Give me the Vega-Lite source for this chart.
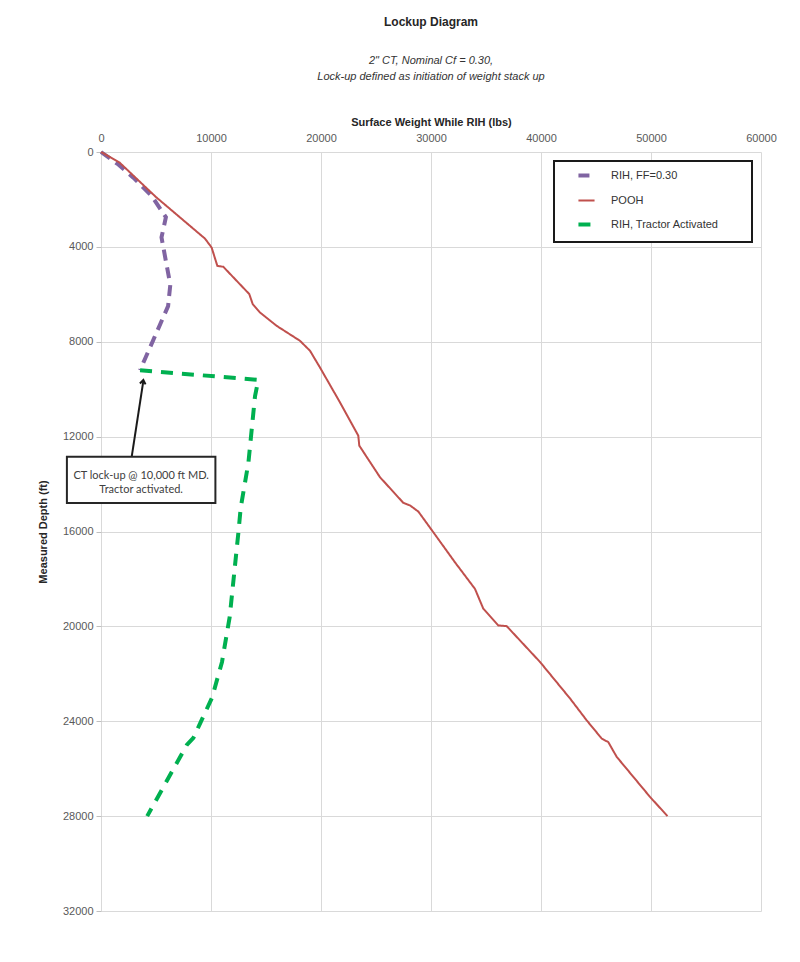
{
  "$schema": "https://vega.github.io/schema/vega-lite/v6.json",
  "width": 660,
  "height": 759,
  "padding": {"left": 37, "top": 16, "right": 5, "bottom": 5},
  "background": "white",
  "config": {
    "font": "Liberation Sans",
    "view": {"stroke": null},
    "legend": {"strokeColor": "#1a1a1a", "strokeWidth": 2}
  },
  "title": {
    "text": "Lockup Diagram",
    "subtitle": ["2\" CT, Nominal Cf = 0.30,", "Lock-up defined as initiation of weight stack up"],
    "fontSize": 12,
    "fontWeight": "bold",
    "color": "#262626",
    "subtitleFontSize": 11,
    "subtitleFontStyle": "italic",
    "subtitleColor": "#333333",
    "subtitlePadding": 26,
    "subtitleLineHeight": 16,
    "anchor": "middle",
    "offset": 33
  },
  "datasets": {
    "curves": [
      {"series": "RIH, FF=0.30", "w": 0, "d": 0},
      {"series": "RIH, FF=0.30", "w": 1500, "d": 500},
      {"series": "RIH, FF=0.30", "w": 2940, "d": 1080},
      {"series": "RIH, FF=0.30", "w": 4600, "d": 1850},
      {"series": "RIH, FF=0.30", "w": 5900, "d": 2750},
      {"series": "RIH, FF=0.30", "w": 5500, "d": 3600},
      {"series": "RIH, FF=0.30", "w": 6300, "d": 5600},
      {"series": "RIH, FF=0.30", "w": 6100, "d": 6500},
      {"series": "RIH, FF=0.30", "w": 3550, "d": 9200},
      {"series": "POOH", "w": 0, "d": 0},
      {"series": "POOH", "w": 1700, "d": 450},
      {"series": "POOH", "w": 5000, "d": 1900},
      {"series": "POOH", "w": 9450, "d": 3650},
      {"series": "POOH", "w": 10060, "d": 4030},
      {"series": "POOH", "w": 10575, "d": 4800},
      {"series": "POOH", "w": 11120, "d": 4840},
      {"series": "POOH", "w": 13480, "d": 5990},
      {"series": "POOH", "w": 13790, "d": 6410},
      {"series": "POOH", "w": 14450, "d": 6765},
      {"series": "POOH", "w": 15970, "d": 7330},
      {"series": "POOH", "w": 18090, "d": 7960},
      {"series": "POOH", "w": 19000, "d": 8380},
      {"series": "POOH", "w": 19900, "d": 9080},
      {"series": "POOH", "w": 21730, "d": 10560},
      {"series": "POOH", "w": 23390, "d": 11960},
      {"series": "POOH", "w": 23480, "d": 12380},
      {"series": "POOH", "w": 25360, "d": 13710},
      {"series": "POOH", "w": 27480, "d": 14790},
      {"series": "POOH", "w": 28090, "d": 14900},
      {"series": "POOH", "w": 28850, "d": 15160},
      {"series": "POOH", "w": 30210, "d": 16030},
      {"series": "POOH", "w": 32180, "d": 17300},
      {"series": "POOH", "w": 34000, "d": 18420},
      {"series": "POOH", "w": 34750, "d": 19250},
      {"series": "POOH", "w": 36120, "d": 19960},
      {"series": "POOH", "w": 36880, "d": 19990},
      {"series": "POOH", "w": 39910, "d": 21500},
      {"series": "POOH", "w": 42640, "d": 23040},
      {"series": "POOH", "w": 44150, "d": 23960},
      {"series": "POOH", "w": 45520, "d": 24730},
      {"series": "POOH", "w": 46120, "d": 24880},
      {"series": "POOH", "w": 46880, "d": 25500},
      {"series": "POOH", "w": 49910, "d": 27190},
      {"series": "POOH", "w": 51500, "d": 28000},
      {"series": "RIH, Tractor Activated", "w": 3550, "d": 9200},
      {"series": "RIH, Tractor Activated", "w": 14300, "d": 9610},
      {"series": "RIH, Tractor Activated", "w": 14000, "d": 10300},
      {"series": "RIH, Tractor Activated", "w": 13400, "d": 13100},
      {"series": "RIH, Tractor Activated", "w": 12700, "d": 15000},
      {"series": "RIH, Tractor Activated", "w": 12500, "d": 16000},
      {"series": "RIH, Tractor Activated", "w": 11700, "d": 19600},
      {"series": "RIH, Tractor Activated", "w": 11000, "d": 21500},
      {"series": "RIH, Tractor Activated", "w": 10100, "d": 23000},
      {"series": "RIH, Tractor Activated", "w": 9000, "d": 24100},
      {"series": "RIH, Tractor Activated", "w": 8400, "d": 24700},
      {"series": "RIH, Tractor Activated", "w": 7800, "d": 25000},
      {"series": "RIH, Tractor Activated", "w": 4200, "d": 28000}
    ],
    "box": [{"w": -3100, "d": 12850, "w2": 10400, "d2": 14800}],
    "notes": [
      {"w": 3650, "d": 13640, "t": "CT lock-up @ 10,000 ft MD."},
      {"w": 3650, "d": 14230, "t": "Tractor activated."}
    ],
    "arrow": [{"w": 2790, "d": 12850, "w2": 3850, "d2": 9650}],
    "head": [{"w": 3850, "d": 9610}]
  },
  "encoding": {
    "x": {
      "field": "w",
      "type": "quantitative",
      "scale": {"domain": [0, 60000], "nice": false, "zero": false},
      "axis": {
        "orient": "top",
        "title": "Surface Weight While RIH (lbs)",
        "values": [0, 10000, 20000, 30000, 40000, 50000, 60000],
        "format": "d",
        "grid": true,
        "gridColor": "#d9d9d9",
        "domain": false,
        "ticks": false,
        "labelFlush": false,
        "labelFontSize": 11,
        "labelColor": "#595959",
        "labelPadding": 9,
        "titleFontSize": 11,
        "titleFontWeight": "bold",
        "titleColor": "#262626",
        "titlePadding": 5
      }
    },
    "y": {
      "field": "d",
      "type": "quantitative",
      "scale": {"domain": [0, 32000], "nice": false, "reverse": true, "zero": false},
      "axis": {
        "title": "Measured Depth (ft)",
        "values": [0, 4000, 8000, 12000, 16000, 20000, 24000, 28000, 32000],
        "format": "d",
        "grid": true,
        "gridColor": "#d9d9d9",
        "domain": false,
        "ticks": true,
        "tickColor": "#bfbfbf",
        "tickSize": 5,
        "labelFlush": false,
        "labelFontSize": 11,
        "labelColor": "#595959",
        "labelPadding": 3,
        "titleFontSize": 11,
        "titleFontWeight": "bold",
        "titleColor": "#262626",
        "titlePadding": 14
      }
    }
  },
  "layer": [
    {
      "data": {"name": "curves"},
      "mark": {"type": "line", "clip": false},
      "encoding": {
        "order": {"field": "d", "type": "quantitative"},
        "color": {
          "field": "series",
          "type": "nominal",
          "scale": {
            "domain": ["RIH, FF=0.30", "POOH", "RIH, Tractor Activated"],
            "range": ["#8064a2", "#c0504d", "#00b050"]
          },
          "legend": {
            "title": null,
            "orient": "top-right",
            "offset": 9,
            "padding": 9,
            "fillColor": "white",
            "cornerRadius": 0,
            "symbolType": "stroke",
            "symbolSize": 260,
            "symbolOffset": 18,
            "symbolStrokeWidth": 4,
            "labelFontSize": 11,
            "labelColor": "#333333",
            "labelOffset": 19,
            "rowPadding": 10,
            "labelExpr": "datum.label + '\u2800\u2800\u2800'",
            "encode": {
              "symbols": {
                "update": {
                  "strokeWidth": {"signal": "datum.value === 'POOH' ? 2 : 4"}
                }
              }
            }
          }
        },
        "strokeDash": {
          "field": "series",
          "type": "nominal",
          "scale": {
            "domain": ["RIH, FF=0.30", "POOH", "RIH, Tractor Activated"],
            "range": [[11, 7], [1, 0], [12, 9]]
          },
          "legend": null
        },
        "strokeWidth": {
          "condition": {"test": "datum.series === 'POOH'", "value": 2},
          "value": 4
        }
      }
    },
    {
      "data": {"name": "arrow"},
      "mark": {"type": "rule", "color": "#1a1a1a", "strokeWidth": 2},
      "encoding": {
        "x2": {"field": "w2"},
        "y2": {"field": "d2"}
      }
    },
    {
      "data": {"name": "head"},
      "mark": {
        "type": "point",
        "shape": "M -0.5 0.7 L 0 0 L 0.5 0.7",
        "filled": false,
        "stroke": "#1a1a1a",
        "strokeWidth": 2,
        "size": 130,
        "angle": 9,
        "opacity": 1
      },
      "encoding": {}
    },
    {
      "data": {"name": "box"},
      "mark": {"type": "rect", "fill": "white", "stroke": "#262626", "strokeWidth": 2},
      "encoding": {
        "x2": {"field": "w2"},
        "y2": {"field": "d2"}
      }
    },
    {
      "data": {"name": "notes"},
      "mark": {"type": "text", "font": "Lato", "fontSize": 11, "color": "#404040", "align": "center", "baseline": "middle"},
      "encoding": {"text": {"field": "t"}}
    }
  ]
}
